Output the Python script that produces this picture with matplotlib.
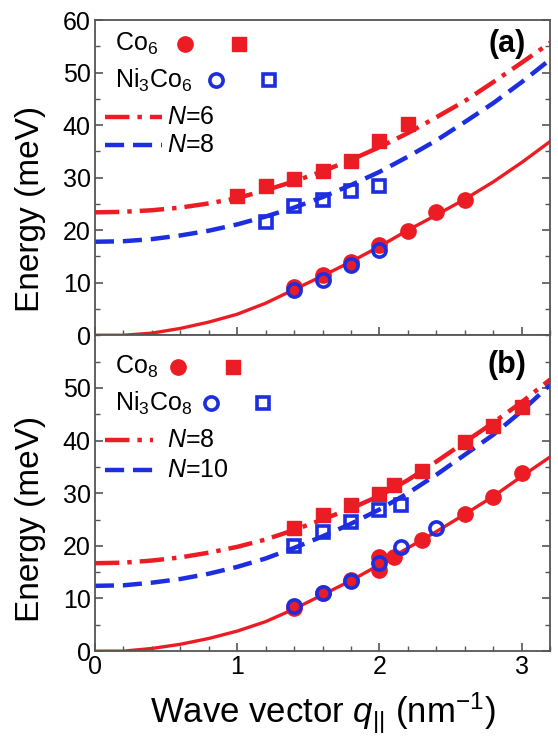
import matplotlib
matplotlib.use("Agg")
import matplotlib.pyplot as plt
from matplotlib.ticker import MultipleLocator

plt.rcParams['font.family'] = ['Liberation Sans', 'DejaVu Sans']
plt.rcParams['mathtext.fontset'] = 'custom'
plt.rcParams['mathtext.rm'] = 'Liberation Sans'
plt.rcParams['mathtext.it'] = 'Liberation Sans:italic'

red = '#ec1c24'
blue = '#1c2ee0'

##### data #####

# fitted dispersion curves, sampled every 0.2 nm^-1
q_fit = [0.0, 0.2, 0.4, 0.6, 0.8, 1.0, 1.2, 1.4, 1.6, 1.8, 2.0, 2.2, 2.4, 2.6, 2.8, 3.0, 3.2]

# panel (a): Co6 / Ni3Co6
a_n6 = [23.4, 23.5, 23.8, 24.3, 25.1, 26.1, 27.6, 29.3, 31.2, 33.4, 35.8, 38.5, 41.5, 44.6, 48.2, 51.9, 55.7]
a_n8 = [17.8, 17.9, 18.3, 19.0, 19.9, 21.1, 22.6, 24.3, 26.3, 28.6, 31.1, 34.0, 37.1, 40.6, 44.2, 48.2, 52.5]
a_acoustic = [0.0, 0.0, 0.4, 1.3, 2.5, 4.0, 6.1, 8.7, 11.3, 14.0, 16.9, 20.0, 22.9, 25.9, 29.2, 32.9, 36.9]

a_co_circ_q = [1.4, 1.6, 1.8, 2.0, 2.2, 2.4, 2.6]
a_co_circ_e = [9.2, 11.4, 14.0, 17.1, 19.8, 23.4, 25.8]
a_co_sq_q = [1.0, 1.2, 1.4, 1.6, 1.8, 2.0, 2.2]
a_co_sq_e = [26.5, 28.4, 29.8, 31.2, 33.1, 37.0, 40.3]
a_ni_circ_q = [1.4, 1.6, 1.8, 2.0]
a_ni_circ_e = [8.6, 10.6, 13.3, 16.2]
a_ni_sq_q = [1.2, 1.4, 1.6, 1.8, 2.0]
a_ni_sq_e = [21.5, 24.6, 25.7, 27.5, 28.4]

# panel (b): Co8 / Ni3Co8
b_n8 = [16.7, 16.8, 17.2, 17.8, 18.7, 19.8, 21.2, 23.0, 25.0, 27.1, 29.5, 32.5, 36.0, 39.7, 43.4, 47.3, 51.6]
b_n10 = [12.4, 12.5, 13.0, 13.7, 14.7, 16.0, 17.6, 19.6, 21.8, 24.2, 26.9, 30.0, 33.5, 37.3, 41.1, 45.6, 50.6]
b_acoustic = [0.0, 0.0, 0.5, 1.3, 2.4, 3.8, 5.6, 8.0, 10.7, 13.4, 16.4, 19.6, 22.7, 26.0, 29.4, 33.2, 36.9]

b_co_circ_q = [1.4, 1.6, 1.8, 2.0, 2.0, 2.1, 2.3, 2.6, 2.8, 3.0]
b_co_circ_e = [8.1, 11.0, 13.5, 15.4, 17.9, 17.9, 21.2, 26.0, 29.3, 33.9]
b_co_sq_q = [1.4, 1.6, 1.8, 2.0, 2.1, 2.3, 2.6, 2.8, 3.0]
b_co_sq_e = [23.3, 25.9, 27.8, 29.8, 31.5, 34.3, 39.8, 42.8, 46.4]
b_ni_circ_q = [1.4, 1.6, 1.8, 2.0, 2.15, 2.4]
b_ni_circ_e = [8.6, 11.0, 13.4, 16.7, 19.8, 23.3]
b_ni_sq_q = [1.4, 1.6, 1.8, 2.0, 2.15]
b_ni_sq_e = [20.0, 22.7, 24.6, 26.8, 27.8]

##### end data #####

dashdot = (5.5, 1.8, 1.0, 1.8)
dashed = (4.3, 2.0)
ms = 11
mew = 2.6
key_fs = 18

fig = plt.figure(figsize=(5.58, 7.45), dpi=100)
ax_a = fig.add_axes([0.170, 0.550, 0.816, 0.423])
ax_b = fig.add_axes([0.170, 0.126, 0.816, 0.424])


def draw_panel(ax, upper, lower, acoustic, co_circ, co_sq, ni_circ, ni_sq):
    ax.plot(q_fit, acoustic, color=red, lw=2.4, zorder=2)
    ax.plot(q_fit, upper, color=red, lw=3.2, dashes=dashdot, zorder=2)
    ax.plot(q_fit, lower, color=blue, lw=3.2, dashes=dashed, zorder=2)
    ax.plot(*co_circ, 'o', color=red, ms=ms, mec=red, ls='none', zorder=3)
    ax.plot(*co_sq, 's', color=red, ms=ms - 1, mec=red, ls='none', zorder=3)
    ax.plot(*ni_circ, 'o', mfc='none', mec=blue, mew=mew, ms=ms - 1.5, ls='none', zorder=4)
    ax.plot(*ni_sq, 's', mfc='none', mec=blue, mew=mew, ms=ms - 2.5, ls='none', zorder=4)

    ax.set_xlim(0, 3.2)
    ax.set_ylim(0, 60)
    ax.xaxis.set_major_locator(MultipleLocator(1))
    ax.xaxis.set_minor_locator(MultipleLocator(0.2))
    ax.yaxis.set_major_locator(MultipleLocator(10))
    ax.yaxis.set_minor_locator(MultipleLocator(5))
    ax.tick_params(which='both', direction='in', right=True, top=False,
                   color='#555555', labelsize=18)
    ax.tick_params(which='major', length=6, width=1.2, pad=3)
    ax.tick_params(which='minor', length=3.5, width=1.0)
    for sp in ax.spines.values():
        sp.set_color('#555555')
        sp.set_linewidth(1.3)
    ax.set_ylabel('Energy (meV)', fontsize=24)


def draw_key(ax, co_label, ni_label, up_label, low_label, ys, xs):
    t = ax.transAxes
    ax.text(0.044, ys[0], co_label, transform=t, fontsize=key_fs, va='center')
    ax.plot([xs[0]], [ys[0]], 'o', color=red, ms=ms, transform=t)
    ax.plot([xs[1]], [ys[0]], 's', color=red, ms=ms - 1, transform=t)
    ax.text(0.044, ys[1], ni_label, transform=t, fontsize=key_fs, va='center')
    ax.plot([xs[2]], [ys[1]], 'o', mfc='none', mec=blue, mew=mew, ms=ms - 1.5, transform=t)
    ax.plot([xs[3]], [ys[1]], 's', mfc='none', mec=blue, mew=mew, ms=ms - 2.5, transform=t)
    ax.plot([0.022, xs[4]], [ys[2], ys[2]], color=red, lw=3.2, dashes=dashdot, transform=t)
    ax.text(0.158, ys[2], up_label, transform=t, fontsize=key_fs, va='center')
    ax.plot([0.022, xs[4]], [ys[3], ys[3]], color=blue, lw=3.2, dashes=dashed, transform=t)
    ax.text(0.158, ys[3], low_label, transform=t, fontsize=key_fs, va='center')


draw_panel(ax_a, a_n6, a_n8, a_acoustic,
           (a_co_circ_q, a_co_circ_e), (a_co_sq_q, a_co_sq_e),
           (a_ni_circ_q, a_ni_circ_e), (a_ni_sq_q, a_ni_sq_e))
draw_panel(ax_b, b_n8, b_n10, b_acoustic,
           (b_co_circ_q, b_co_circ_e), (b_co_sq_q, b_co_sq_e),
           (b_ni_circ_q, b_ni_circ_e), (b_ni_sq_q, b_ni_sq_e))

draw_key(ax_a, 'Co$_6$', 'Ni$_3$Co$_6$', '$N$=6', '$N$=8',
         [0.925, 0.81, 0.693, 0.603], [0.198, 0.316, 0.266, 0.382, 0.147])
draw_key(ax_b, 'Co$_8$', 'Ni$_3$Co$_8$', '$N$=8', '$N$=10',
         [0.90, 0.785, 0.668, 0.573], [0.183, 0.304, 0.255, 0.370, 0.128])

ax_a.text(0.905, 0.925, '(a)', transform=ax_a.transAxes, fontsize=22,
          fontweight='bold', ha='center', va='center')
ax_b.text(0.905, 0.905, '(b)', transform=ax_b.transAxes, fontsize=22,
          fontweight='bold', ha='center', va='center')

ax_a.tick_params(labelbottom=False)
ax_b.set_yticks([0, 10, 20, 30, 40, 50])
ax_a.yaxis.set_label_coords(-0.108, 0.40)
ax_b.yaxis.set_label_coords(-0.108, 0.42)
ax_b.set_xlabel('Wave vector $q_{||}$ (nm$^{-1}$)', fontsize=25, labelpad=8)

fig.savefig('out.png', dpi=100)
